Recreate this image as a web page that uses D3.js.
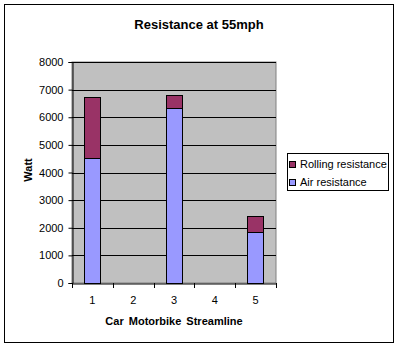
<!DOCTYPE html>
<html><head><meta charset="utf-8">
<script src="https://cdn.jsdelivr.net/npm/d3@7"></script>
<style>body{margin:0;background:#fff}svg{display:block;font-family:Arial,"Liberation Sans",sans-serif}</style>
</head><body>
<svg id="c" width="400" height="348"></svg>
<script>
const categories = [1, 2, 3, 4, 5];
const airResistance = [4520, null, 6320, null, 1860];
const rollingResistance = [2230, null, 480, null, 560];
const yTicks = [0, 1000, 2000, 3000, 4000, 5000, 6000, 7000, 8000];
const seriesNames = ["Rolling resistance", "Air resistance"];
const colors = {air: "#9999FF", rolling: "#993366"};

const svg = d3.select("#c");
svg.append("rect").attr("x", 4.5).attr("y", 4.5).attr("width", 389).attr("height", 338)
  .attr("fill", "#fff").attr("stroke", "#000");

const L = 72, R = 276, T = 62, B = 283;
const x = d3.scaleBand().domain(categories).range([L, R]).paddingInner(0.6).paddingOuter(0.3);
const xb = d3.scaleBand().domain(categories).range([L, R]);
const y = d3.scaleLinear().domain([0, 8000]).range([B, T]);

svg.append("rect").attr("x", L).attr("y", T).attr("width", R - L).attr("height", B - T)
  .attr("fill", "#C0C0C0").attr("stroke", "#808080");

svg.append("g").selectAll("line").data(yTicks.filter(d => d > 0)).join("line")
  .attr("x1", L).attr("x2", R).attr("y1", d => Math.round(y(d)) + 0.5).attr("y2", d => Math.round(y(d)) + 0.5)
  .attr("stroke", "#000");

const data = categories.map((c, i) => ({c, air: airResistance[i], roll: rollingResistance[i]})).filter(d => d.air != null);
const g = svg.append("g");
g.selectAll(".air").data(data).join("rect")
  .attr("x", d => Math.round(x(d.c)) + 0.5).attr("width", Math.round(x.bandwidth()))
  .attr("y", d => Math.round(y(d.air)) + 0.5).attr("height", d => Math.round(B - y(d.air)))
  .attr("fill", colors.air).attr("stroke", "#000");
g.selectAll(".roll").data(data).join("rect")
  .attr("x", d => Math.round(x(d.c)) + 0.5).attr("width", Math.round(x.bandwidth()))
  .attr("y", d => Math.round(y(d.air + d.roll)) + 0.5).attr("height", d => Math.round(y(d.air)) - Math.round(y(d.air + d.roll)))
  .attr("fill", colors.rolling).attr("stroke", "#000");

// y axis
const ya = svg.append("g").attr("transform", `translate(${L + 0.5},0)`)
  .call(d3.axisLeft(y).tickValues(yTicks).tickSize(4).tickPadding(5).tickFormat(d3.format("d")));
ya.select(".domain").attr("stroke", "#000");
ya.selectAll(".tick line").attr("stroke", "#000");
ya.selectAll(".tick text").attr("font-size", 11).attr("fill", "#000").attr("font-family", "Arial, Liberation Sans, sans-serif");

// x axis
const xa = svg.append("g").attr("transform", `translate(0,${B + 0.5})`)
  .call(d3.axisBottom(xb).tickSize(0).tickPadding(13));
xa.select(".domain").attr("stroke", "#000");
xa.selectAll(".tick text").attr("font-size", 11).attr("fill", "#000").attr("font-family", "Arial, Liberation Sans, sans-serif");
svg.append("g").selectAll("line").data(d3.range(categories.length + 1)).join("line")
  .attr("x1", i => Math.round(L + i * xb.step()) + 0.5).attr("x2", i => Math.round(L + i * xb.step()) + 0.5)
  .attr("y1", B).attr("y2", B + 5).attr("stroke", "#000");

svg.append("text").attr("x", 199).attr("y", 29).attr("text-anchor", "middle")
  .attr("font-size", 13).attr("font-weight", "bold").text("Resistance at 55mph");
svg.append("text").attr("x", 174).attr("y", 325).attr("text-anchor", "middle")
  .attr("font-size", 11).attr("font-weight", "bold").attr("word-spacing", 2).text("Car  Motorbike  Streamline");
svg.append("text").attr("transform", "translate(32,170) rotate(-90)").attr("text-anchor", "middle")
  .attr("font-size", 11).attr("font-weight", "bold").text("Watt");

// legend
const lg = svg.append("g");
lg.append("rect").attr("x", 287.5).attr("y", 153.5).attr("width", 101).attr("height", 37)
  .attr("fill", "#fff").attr("stroke", "#000");
const legendColors = [colors.rolling, colors.air];
seriesNames.forEach((n, i) => {
  const yy = 162 + i * 18;
  lg.append("rect").attr("x", 289.5).attr("y", yy - 0.5).attr("width", 6).attr("height", 6)
    .attr("fill", legendColors[i]).attr("stroke", "#000");
  lg.append("text").attr("x", 300).attr("y", yy + 6).attr("font-size", 11).text(n);
});
</script>
</body></html>
